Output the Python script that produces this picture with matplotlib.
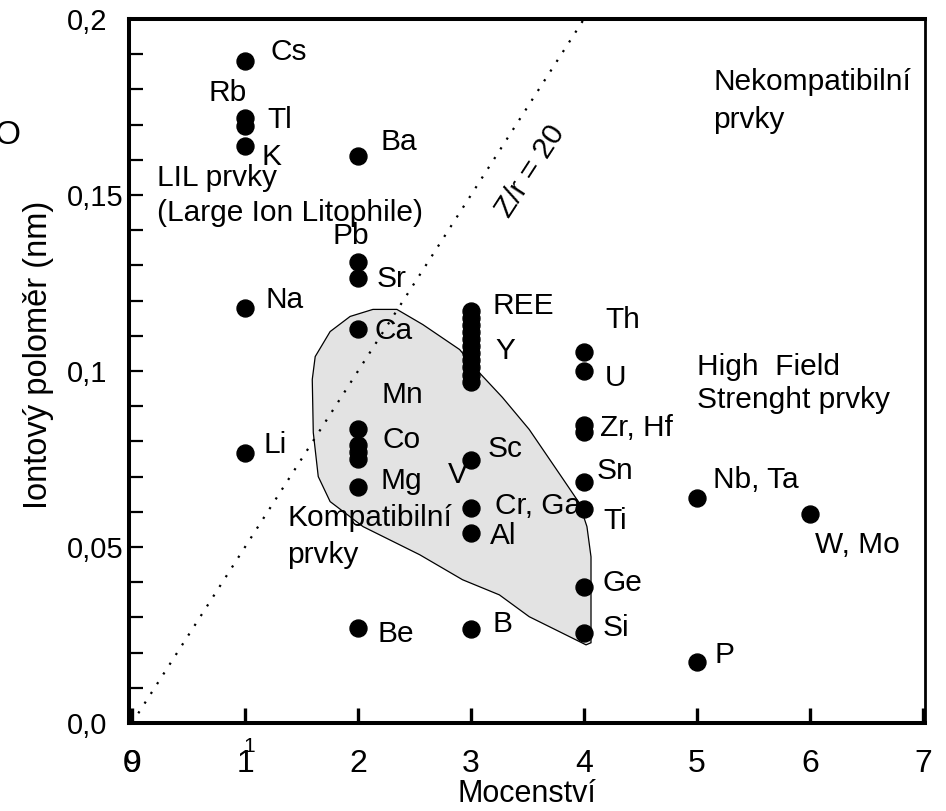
import matplotlib
matplotlib.use("Agg")
import matplotlib.pyplot as plt
from matplotlib.patches import Polygon
import numpy as np

plt.rcParams['font.family'] = ['Liberation Sans', 'DejaVu Sans']

# ---- data ----
valence = [1, 1, 1, 1, 1, 1,
           2, 2, 2, 2, 2, 2, 2, 2, 2, 2,
           3, 3, 3, 3, 3, 3, 3, 3, 3, 3, 3, 3, 3, 3, 3,
           4, 4, 4, 4, 4, 4, 4, 4,
           5, 5,
           6]
radius = [0.188, 0.172, 0.1695, 0.164, 0.118, 0.0768,
          0.161, 0.131, 0.1265, 0.112, 0.0835, 0.079, 0.077, 0.075, 0.067, 0.027,
          0.117, 0.115, 0.113, 0.111, 0.109, 0.107, 0.105, 0.103, 0.101, 0.099, 0.097,
          0.0748, 0.0612, 0.0541, 0.0267,
          0.1055, 0.100, 0.0848, 0.0828, 0.0686, 0.0609, 0.0387, 0.0256,
          0.064, 0.0172,
          0.0595]

# compatible-element field outline (valence, radius)
field_x = [2.132, 2.344, 2.573, 2.899, 3.048, 3.278, 3.515, 3.806, 3.956, 4.026,
           4.062, 4.062, 4.018, 3.930, 3.515, 3.251, 2.925, 2.546, 2.044, 1.753,
           1.648, 1.604, 1.595, 1.621, 1.753, 1.930]
field_y = [0.1175, 0.1175, 0.1132, 0.1061, 0.1004, 0.0925, 0.0834, 0.0697, 0.0626, 0.0558,
           0.0472, 0.0228, 0.0222, 0.0236, 0.0302, 0.0364, 0.0407, 0.0478, 0.0558, 0.0629,
           0.0700, 0.0825, 0.0976, 0.1041, 0.1112, 0.1155]

zr_ratio = 20
zr_line_x = [0.0, 4.0]
x_ticks = [0, 1, 2, 3, 4, 5, 6, 7]
x_ticklabels = ['0', '1', '2', '3', '4', '5', '6', '7']
y_ticks = [0.0, 0.05, 0.1, 0.15, 0.2]
y_ticklabels = ['0,0', '0,05', '0,1', '0,15', '0,2']

labels = ['Cs', 'Rb', 'Tl', 'K', 'LIL prvky', '(Large Ion Litophile)', 'Ba', 'Pb', 'Sr', 'Na',
          'REE', 'Th', 'Ca', 'Y', 'U', 'Mn', 'Zr, Hf', 'Co', 'Li', 'Sc', 'Sn', 'V', 'Mg',
          'Cr, Ga', 'Nb, Ta', 'Ti', 'Kompatibilní', 'prvky', 'Al', 'W, Mo', 'Ge', 'B', 'Si',
          'Be', 'P', 'Nekompatibilní', 'prvky', 'High  Field', 'Strenght prvky']
label_pos = [(1.221, 0.1883), (0.673, 0.1767), (1.195, 0.1690), (1.142, 0.1585),
             (0.221, 0.1525), (0.221, 0.1425), (2.195, 0.1627), (1.770, 0.1360),
             (2.168, 0.1240), (1.177, 0.1178), (3.186, 0.1161), (4.186, 0.1121),
             (2.150, 0.1092), (3.212, 0.1033), (4.186, 0.0956), (2.212, 0.0910),
             (4.142, 0.0814), (2.221, 0.0782), (1.159, 0.0768), (3.150, 0.0757),
             (4.115, 0.0694), (2.796, 0.0683), (2.195, 0.0666), (3.212, 0.0595),
             (5.142, 0.0669), (4.168, 0.0552), (1.372, 0.0560), (1.372, 0.0455),
             (3.168, 0.0509), (6.044, 0.0484), (4.168, 0.0376), (3.186, 0.0259),
             (4.168, 0.0248), (2.168, 0.0230), (5.159, 0.0171), (5.142, 0.1798),
             (5.142, 0.1690), (5.000, 0.0990), (5.000, 0.0896)]

# ---- figure ----
W, H = 946, 811
fig = plt.figure(figsize=(W / 100, H / 100), dpi=100)
ax = fig.add_axes([129 / W, (H - 723) / H, (925 - 129) / W, (723 - 19) / H])
ax.set_xlim(-0.027, 7.018)
ax.set_ylim(0, 0.2)

# field of compatible elements
ax.add_patch(Polygon(np.column_stack([field_x, field_y]), closed=True,
                     facecolor='#e3e3e3', edgecolor='black', linewidth=0.9, zorder=1))

# Z/r = 20 line
lx = np.array(zr_line_x)
ax.plot(lx, lx / zr_ratio, color='black', linewidth=1.6,
        linestyle=(0, (1.0, 4.2)), zorder=2)
ax.text(3.522, 0.1568, 'Z/r = 20', rotation=57, ha='center', va='center',
        fontsize=21.5, zorder=3)

# points
ax.plot(valence, radius, linestyle='none', marker='o', markersize=12.2,
        color='black', zorder=4)

for t, (px, py) in zip(labels, label_pos):
    ax.text(px, py, t, ha='left', va='baseline', fontsize=21.5, zorder=5)

# spines
for side, lw in [('left', 2.9), ('bottom', 2.9), ('top', 2.9), ('right', 2.0)]:
    ax.spines[side].set_linewidth(lw)
    ax.spines[side].set_color('black')

# ticks
ax.set_xticks(x_ticks, x_ticklabels)
ax.set_yticks(y_ticks, y_ticklabels)
ax.set_yticks(np.arange(0, 0.2001, 0.01), minor=True)
ax.tick_params(axis='x', which='major', direction='in', length=11, width=2.4,
               labelsize=23, pad=19)
ax.tick_params(axis='y', which='both', direction='in', length=10, width=1.6)
ax.tick_params(axis='y', which='major', labelsize=21, pad=45)
for lab in ax.get_yticklabels():
    lab.set_horizontalalignment('left')

# overprinted characters of the original axis labels
xaxis_tr = ax.get_xaxis_transform()
ax.text(0.0, -19 * 100 / 72 / 704, '9', transform=xaxis_tr, ha='center', va='top',
        fontsize=23, clip_on=False)
ax.text(1.04, -0.020, '1', transform=xaxis_tr, ha='center', va='top',
        fontsize=15, clip_on=False)

ax.set_xlabel('Mocenství', fontsize=22, labelpad=0)
ax.set_ylabel('Iontový poloměr (nm)', fontsize=23.5)
ax.yaxis.set_label_coords(-0.094, 0.523)

fig.text(20 / W, 1 - 135 / H, 'O', ha='right', va='center', fontsize=24)

fig.savefig('out.png', dpi=100)
